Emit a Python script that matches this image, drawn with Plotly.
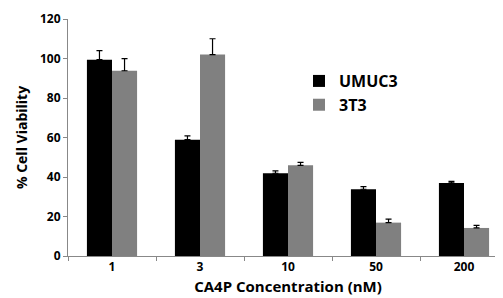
import plotly.graph_objects as go

categories = ["1", "3", "10", "50", "200"]
umuc3 = [99.4, 58.9, 41.9, 33.8, 37.0]
umuc3_err = [4.6, 1.9, 1.2, 1.3, 0.8]
t3t3 = [93.8, 102.0, 45.9, 16.9, 14.2]
t3t3_err = [6.1, 8.0, 1.5, 1.8, 1.3]

font = "'Open Sans', sans-serif"

fig = go.Figure()
fig.add_trace(go.Bar(x=categories, y=umuc3, name="UMUC3", marker=dict(color="#000000", line=dict(width=0)),
                     error_y=dict(type="data", array=umuc3_err, symmetric=False, arrayminus=[0]*5,
                                  color="#000000", thickness=1.2, width=3)))
fig.add_trace(go.Bar(x=categories, y=t3t3, name="3T3", marker=dict(color="#808080", line=dict(width=0)),
                     error_y=dict(type="data", array=t3t3_err, symmetric=False, arrayminus=[0]*5,
                                  color="#000000", thickness=1.2, width=3)))

fig.update_layout(
    width=503, height=298,
    margin=dict(l=60, r=3, t=11, b=50),
    paper_bgcolor="white", plot_bgcolor="white",
    barmode="group", bargap=0.43, bargroupgap=0,
    font=dict(family=font, size=12, color="#000000"),
    legend=dict(x=0.525, y=0.81, xanchor="left", yanchor="top",
                font=dict(family=font, size=16, color="#000000", weight="bold"),
                bgcolor="rgba(0,0,0,0)", itemwidth=30, tracegroupgap=2),
    showlegend=True,
)
fig.update_xaxes(
    type="category", showgrid=False, showline=True, linecolor="#888888", linewidth=1,
    ticks="outside", tickson="boundaries", ticklen=4, tickcolor="#888888",
    tickfont=dict(family=font, size=12, weight="bold"),
    title=dict(text="CA4P Concentration (nM)", font=dict(family=font, size=15, weight="bold"), standoff=7),
    automargin=False,
)
fig.update_yaxes(
    range=[0, 120], dtick=20, showgrid=False, showline=True, linecolor="#888888", linewidth=1,
    ticks="outside", ticklen=4, tickcolor="#888888", zeroline=False,
    tickfont=dict(family=font, size=12, weight="bold"),
    title=dict(text="% Cell Viability", font=dict(family=font, size=14, weight="bold"), standoff=9),
    automargin=False,
)

fig.write_html("out.html")
